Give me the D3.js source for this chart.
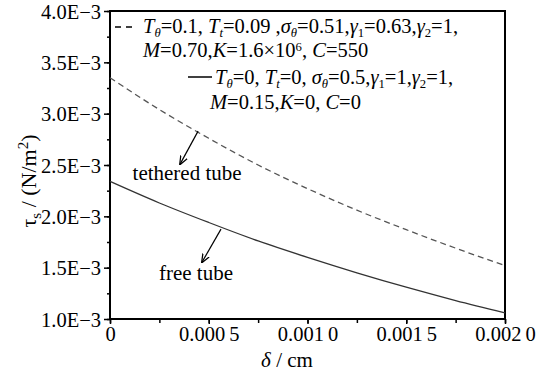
<!DOCTYPE html>
<html>
<head>
<meta charset="utf-8">
<script src="https://cdn.jsdelivr.net/npm/d3@7"></script>
<style>
  body { margin: 0; background: #fff; }
  svg { display: block; font-family: "Liberation Serif", "Times New Roman", serif; }
</style>
</head>
<body>
<svg id="chart" width="540" height="374"></svg>
<script>
// Shear stress vs. thickness for tethered and free tubes
const delta = [0, 0.00025, 0.0005, 0.00075, 0.001, 0.00125, 0.0015, 0.00175, 0.002];
const tetheredTau = [3.35e-3, 3.04e-3, 2.76e-3, 2.50e-3, 2.27e-3, 2.06e-3, 1.87e-3, 1.69e-3, 1.52e-3];
const freeTau = [2.34e-3, 2.13e-3, 1.94e-3, 1.76e-3, 1.60e-3, 1.45e-3, 1.31e-3, 1.18e-3, 1.06e-3];

const xTicks = [0, 0.0005, 0.001, 0.0015, 0.002];
const xTickLabels = ["0", "0.000\u20095", "0.001\u20090", "0.001\u20095", "0.002\u20090"];
const yTicks = [1.0e-3, 1.5e-3, 2.0e-3, 2.5e-3, 3.0e-3, 3.5e-3, 4.0e-3];
const yTickLabels = ["1.0E\u22123", "1.5E\u22123", "2.0E\u22123", "2.5E\u22123", "3.0E\u22123", "3.5E\u22123", "4.0E\u22123"];

// annotation points on each curve: [delta, tau]
const tetheredNote = { at: [0.000446, 2.83e-3], label: "tethered tube" };
const freeNote = { at: [0.000562, 1.875e-3], label: "free tube" };

const W = 540, H = 374;
const m = { left: 110, right: 35, top: 11, bottom: 55 };
const svg = d3.select("#chart");
const FONT = "Liberation Serif";

const x = d3.scaleLinear().domain([0, 0.002]).range([m.left, W - m.right]);
const y = d3.scaleLinear().domain([1.0e-3, 4.0e-3]).range([H - m.bottom, m.top]);

// minor ticks
const xMinor = d3.range(0, 0.0020001, 0.00025);
const yMinor = d3.range(1.0e-3, 4.0001e-3, 0.25e-3);

const gx = svg.append("g").attr("transform", `translate(0,${H - m.bottom})`);
gx.call(d3.axisBottom(x).tickValues(xMinor).tickSize(4).tickFormat(""));
gx.select(".domain").remove();
gx.selectAll("line").attr("stroke", "#000").attr("stroke-width", 1.5);
const gxl = svg.append("g").attr("transform", `translate(0,${H - m.bottom})`);
gxl.call(d3.axisBottom(x).tickValues(xTicks).tickSize(5).tickFormat((d, i) => xTickLabels[i]));
gxl.select(".domain").remove();
gxl.selectAll("line").attr("stroke", "#000").attr("stroke-width", 1.5);
gxl.selectAll("text").attr("font-size", 20.5).attr("font-family", FONT).attr("fill", "#000").attr("dy", "0.95em").attr("y", 3);

const gy = svg.append("g").attr("transform", `translate(${m.left},0)`);
gy.call(d3.axisLeft(y).tickValues(yMinor).tickSize(3).tickFormat(""));
gy.select(".domain").remove();
gy.selectAll("line").attr("stroke", "#000").attr("stroke-width", 1.5);
const gyl = svg.append("g").attr("transform", `translate(${m.left},0)`);
gyl.call(d3.axisLeft(y).tickValues(yTicks).tickSize(6).tickFormat((d, i) => yTickLabels[i]));
gyl.select(".domain").remove();
gyl.selectAll("line").attr("stroke", "#000").attr("stroke-width", 1.5);
gyl.selectAll("text").attr("font-size", 20.5).attr("font-family", FONT).attr("fill", "#000").attr("x", -9).attr("dy", "0.35em");

// frame
svg.append("rect")
  .attr("x", m.left).attr("y", m.top)
  .attr("width", W - m.left - m.right).attr("height", H - m.top - m.bottom)
  .attr("fill", "none").attr("stroke", "#000").attr("stroke-width", 2);

// curves
const line = d3.line().x(d => x(d[0])).y(d => y(d[1])).curve(d3.curveMonotoneX);
svg.append("path")
  .datum(delta.map((d, i) => [d, tetheredTau[i]]))
  .attr("d", line).attr("fill", "none")
  .attr("stroke", "#555").attr("stroke-width", 1.3).attr("stroke-dasharray", "6,4");
svg.append("path")
  .datum(delta.map((d, i) => [d, freeTau[i]]))
  .attr("d", line).attr("fill", "none")
  .attr("stroke", "#333").attr("stroke-width", 1.3);

// arrow marker
svg.append("defs").append("marker")
  .attr("id", "arr").attr("viewBox", "0 0 10 10").attr("refX", 9).attr("refY", 5)
  .attr("markerWidth", 9).attr("markerHeight", 9).attr("markerUnits", "userSpaceOnUse")
  .attr("orient", "auto")
  .append("path").attr("d", "M0,1 L10,5 L0,9").attr("fill", "none").attr("stroke", "#000").attr("stroke-width", 1.4);

function note(n, dx, dy, tx, ty) {
  const px = x(n.at[0]), py = y(n.at[1]);
  svg.append("line")
    .attr("x1", px).attr("y1", py).attr("x2", px + dx).attr("y2", py + dy)
    .attr("stroke", "#000").attr("stroke-width", 1.2).attr("marker-end", "url(#arr)");
  svg.append("text").attr("x", px + tx).attr("y", py + ty)
    .attr("font-size", 21).attr("text-anchor", "middle").text(n.label);
}
note(tetheredNote, -18, 33, -11, 49);
note(freeNote, -19, 33, -25, 51);

// rich text helper: segments [text, italic, "sub"|"sup"|null]
function rich(xp, yp, segs, fs) {
  const t = svg.append("text").attr("x", xp).attr("y", yp).attr("font-size", fs);
  let shift = 0;
  segs.forEach(s => {
    const [txt, it, pos] = s;
    const target = pos === "sub" ? fs * 0.2 : pos === "sup" ? -fs * 0.3 : 0;
    const ts = t.append("tspan").text(txt)
      .attr("dy", target - shift)
      .attr("font-style", it ? "italic" : "normal");
    if (pos) ts.attr("font-size", fs * 0.62);
    shift = target;
  });
  return t;
}

const fs = 20.5;
// legend sample lines
svg.append("line").attr("x1", 115).attr("x2", 136).attr("y1", 27).attr("y2", 27)
  .attr("stroke", "#000").attr("stroke-width", 1.3).attr("stroke-dasharray", "6,5");
svg.append("line").attr("x1", 188).attr("x2", 212).attr("y1", 77).attr("y2", 77)
  .attr("stroke", "#000").attr("stroke-width", 1.5);

rich(143, 33, [["T", 1], ["θ", 1, "sub"], ["=0.1, ", 0], ["T", 1], ["t", 1, "sub"], ["=0.09 ,", 0],
  ["σ", 1], ["θ", 1, "sub"], ["=0.51,", 0], ["γ", 1], ["1", 0, "sub"], ["=0.63,", 0],
  ["γ", 1], ["2", 0, "sub"], ["=1,", 0]], fs);
rich(143, 57, [["M", 1], ["=0.70,", 0], ["K", 1], ["=1.6×10", 0], ["6", 0, "sup"], [", ", 0],
  ["C", 1], ["=550", 0]], fs);
rich(215, 84, [["T", 1], ["θ", 1, "sub"], ["=0, ", 0], ["T", 1], ["t", 1, "sub"], ["=0, ", 0],
  ["σ", 1], ["θ", 1, "sub"], ["=0.5,", 0], ["γ", 1], ["1", 0, "sub"], ["=1,", 0],
  ["γ", 1], ["2", 0, "sub"], ["=1,", 0]], fs);
rich(210, 109, [["M", 1], ["=0.15,", 0], ["K", 1], ["=0, ", 0], ["C", 1], ["=0", 0]], fs);

// axis titles
const yt = svg.append("text").attr("transform", "translate(36,181) rotate(-90)")
  .attr("text-anchor", "middle").attr("font-size", 22);
yt.append("tspan").text("τ");
yt.append("tspan").text("s").attr("font-size", 15).attr("dy", 5);
yt.append("tspan").text(" / (N/m").attr("dy", -5);
yt.append("tspan").text("2").attr("font-size", 15).attr("dy", -8);
yt.append("tspan").text(")").attr("dy", 8);

const xt = svg.append("text").attr("x", 287).attr("y", 367)
  .attr("text-anchor", "middle").attr("font-size", 21);
xt.append("tspan").text("δ").attr("font-style", "italic");
xt.append("tspan").text(" / cm");
</script>
</body>
</html>
